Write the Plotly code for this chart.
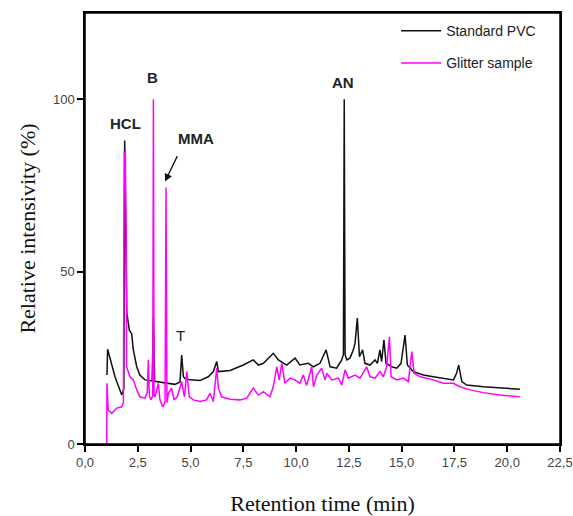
import plotly.graph_objects as go

# ---- data ----
pvc_time = [1.04, 1.07, 1.18, 1.42, 1.74, 1.84, 1.88, 1.93, 1.98, 2.10, 2.21, 2.29, 2.45, 2.60, 2.84,
            3.18, 3.24, 3.30, 3.39, 3.87, 4.26, 4.50, 4.58, 4.66, 4.74, 4.97, 5.45, 5.84, 6.08, 6.24,
            6.32, 6.87, 7.19, 7.50, 7.97, 8.21, 8.45, 8.92, 9.16, 9.55, 9.95, 10.18, 10.58, 10.82,
            11.13, 11.42, 11.61, 11.92, 12.16, 12.24, 12.28, 12.32, 12.40, 12.55, 12.71, 12.79,
            12.90, 13.00, 13.15, 13.26, 13.50, 13.74, 13.85, 13.97, 14.05, 14.16, 14.26, 14.53,
            14.77, 14.97, 15.16, 15.27, 15.55, 16.03, 16.50, 16.97, 17.45, 17.60, 17.70, 17.85,
            18.08, 18.87, 19.66, 20.29, 20.60]
pvc_intensity = [20.0, 27.5, 25.0, 19.5, 14.2, 16.0, 88.0, 60.0, 38.0, 33.0, 32.0, 27.3, 22.4, 20.0, 18.6,
                 18.3, 36.5, 18.2, 18.1, 17.6, 17.3, 18.0, 25.8, 19.5, 19.0, 18.6, 18.4, 19.5, 21.0, 23.9,
                 21.0, 21.3, 22.0, 22.9, 24.4, 22.9, 23.4, 26.3, 24.4, 22.9, 24.9, 22.9, 23.4, 22.4,
                 23.4, 27.3, 22.4, 22.0, 24.4, 26.0, 100.0, 26.0, 24.4, 24.9, 27.3, 29.2,
                 36.5, 25.3, 27.3, 23.4, 22.9, 24.4, 23.4, 27.3, 23.9, 30.2, 23.4, 22.4,
                 22.0, 23.4, 31.6, 22.9, 21.0, 20.0, 19.5, 19.1, 18.6, 20.5, 22.9, 18.1,
                 17.1, 16.6, 16.2, 15.9, 15.9]

glitter_time = [1.03, 1.04, 1.10, 1.26, 1.50, 1.74, 1.82, 1.86, 1.91, 1.95, 1.97, 2.13, 2.29, 2.45, 2.60,
                2.84, 2.95, 3.00, 3.05, 3.12, 3.21, 3.24, 3.27, 3.32, 3.47, 3.55, 3.68, 3.79, 3.84,
                3.88, 3.95, 4.10, 4.22, 4.37, 4.58, 4.71, 4.82, 4.94, 5.13, 5.45, 5.76, 5.92, 6.08,
                6.24, 6.32, 6.47, 6.87, 7.34, 7.66, 7.97, 8.21, 8.45, 8.76, 8.92, 9.08, 9.20, 9.32,
                9.47, 9.71, 9.95, 10.18, 10.34, 10.50, 10.74, 10.82, 10.98, 11.21, 11.37, 11.45,
                11.69, 12.00, 12.16, 12.32, 12.47, 12.79, 13.03, 13.34, 13.50, 13.74, 13.97, 14.13,
                14.29, 14.42, 14.50, 14.77, 15.08, 15.32, 15.48, 15.59, 15.87, 16.50, 16.97, 17.45,
                17.76, 18.24, 18.87, 19.66, 20.60]
glitter_intensity = [0.0, 17.6, 9.9, 8.9, 10.4, 10.8, 12.0, 84.6, 84.6, 60.0, 22.4, 19.5, 18.6, 15.7, 13.7,
                     13.3, 15.0, 24.4, 14.0, 12.8, 14.0, 100.0, 14.0, 13.7, 17.6, 12.8, 10.8, 12.0, 74.4,
                     12.0, 14.7, 16.2, 12.8, 13.7, 18.1, 13.7, 21.0, 13.7, 12.8, 12.3, 12.8, 14.7, 12.3,
                     22.0, 16.2, 13.7, 13.0, 12.8, 13.3, 16.2, 14.2, 15.2, 13.7, 16.6, 22.4, 18.6, 23.4,
                     17.6, 19.1, 18.6, 17.6, 20.0, 17.0, 22.4, 16.6, 20.0, 22.0, 18.6, 20.5,
                     18.6, 19.1, 17.1, 21.5, 19.1, 20.0, 19.1, 22.4, 19.5, 19.1, 21.0, 19.5,
                     22.4, 31.1, 19.5, 18.6, 19.1, 18.1, 26.8, 20.5, 19.5, 18.6, 17.6, 17.6,
                     16.6, 15.7, 14.9, 14.2, 13.7]

x_tick_vals = [0, 2.5, 5, 7.5, 10, 12.5, 15, 17.5, 20, 22.5]
x_tick_labels = ["0,0", "2,5", "5,0", "7,5", "10,0", "12,5", "15,0", "17,5", "20,0", "22,5"]
y_tick_vals = [0, 50, 100]
y_tick_labels = ["0", "50", "100"]

peak_labels = ["HCL", "B", "MMA", "AN", "T"]
peak_label_x = [1.93, 3.20, 5.24, 12.22, 4.52]
peak_label_y = [92.9, 106.2, 88.5, 104.8, 31.4]

fig = go.Figure()
fig.add_trace(go.Scatter(x=pvc_time, y=pvc_intensity, mode="lines", name="Standard PVC",
                         line=dict(color="#111111", width=1.5), legendgroup="a"))
fig.add_trace(go.Scatter(x=glitter_time, y=glitter_intensity, mode="lines", name="Glitter sample",
                         line=dict(color="#ff00ff", width=1.5), legendgroup="b"))

for i, txt in enumerate(peak_labels):
    fig.add_annotation(x=peak_label_x[i], y=peak_label_y[i], text=txt if txt == "T" else "<b>%s</b>" % txt,
                       showarrow=False, xref="x", yref="y",
                       font=dict(family="Liberation Sans, Arial", size=15, color="#222222"))

# arrow pointing to the MMA peak
fig.add_annotation(x=3.79, y=76.1, ax=13, ay=-27, xref="x", yref="y", text="",
                   showarrow=True, arrowhead=2, arrowsize=1.2, arrowwidth=1.3, arrowcolor="#111111")

# closed frame around the plotting area
fig.add_shape(type="rect", xref="paper", yref="paper", x0=0, y0=0, x1=1, y1=1,
              line=dict(color="black", width=1.5), layer="above")

axis_common = dict(showline=True, linecolor="black", linewidth=1.5, mirror=True,
                   ticks="outside", ticklen=6, tickwidth=1.5, tickcolor="black",
                   showgrid=False, zeroline=False,
                   tickfont=dict(family="Liberation Sans, Arial", size=13, color="#444444"))

fig.update_layout(
    width=573, height=516, autosize=False,
    paper_bgcolor="white", plot_bgcolor="white",
    margin=dict(l=85, r=13, t=13, b=72),
    xaxis=dict(range=[0, 22.5], tickvals=x_tick_vals, ticktext=x_tick_labels, automargin=False,
               title=dict(text="Retention time (min)", standoff=40,
                          font=dict(family="Liberation Serif, Times New Roman", size=22, color="#111111")),
               **axis_common),
    yaxis=dict(range=[0, 125], tickvals=y_tick_vals, ticktext=y_tick_labels, automargin=True,
               title=dict(text="Relative intensivity (%)", standoff=11,
                          font=dict(family="Liberation Serif, Times New Roman", size=22, color="#111111")),
               **axis_common),
    legend=dict(x=0.655, y=0.995, xanchor="left", yanchor="top", bgcolor="rgba(0,0,0,0)",
                font=dict(family="Liberation Sans, Arial", size=14, color="#222222"),
                tracegroupgap=11, itemwidth=40),
    showlegend=True,
)

fig.write_html("out.html",
               config={"responsive": False, "displayModeBar": False},
               default_width="573px", default_height="516px",
               post_script="document.body.style.margin='0';document.body.style.overflow='hidden';")
